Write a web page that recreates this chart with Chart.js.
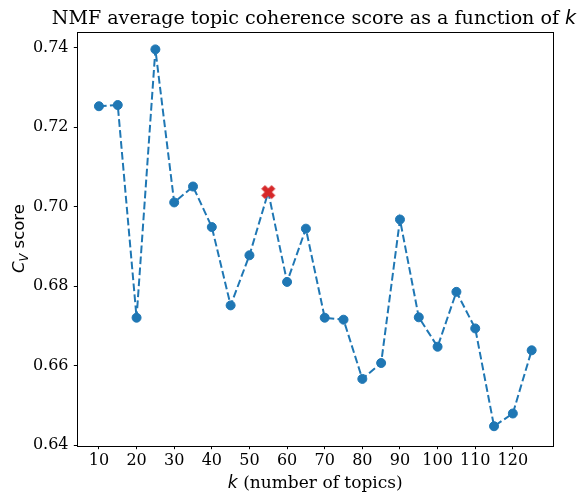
<!DOCTYPE html>
<html><head><meta charset="utf-8">
<script src="https://cdn.jsdelivr.net/npm/chart.js@4.4.1/dist/chart.umd.min.js"></script>
<style>html,body{margin:0;padding:0;background:#fff}#wrap{width:582px;height:493px;position:relative}</style>
</head><body><div id="wrap"><canvas id="c" width="582" height="493"></canvas></div>
<script>
// ---- data ----
const ks = [10,15,20,25,30,35,40,45,50,55,60,65,70,75,80,85,90,95,100,105,110,115,120,125];
const scores = [0.7253,0.7256,0.6721,0.7396,0.7011,0.7051,0.6949,0.6752,0.6878,0.7037,0.6811,0.6945,
                0.6721,0.6716,0.6567,0.6607,0.6968,0.6722,0.6648,0.6786,0.6694,0.6448,0.6480,0.6639];
const bestK = [55];
const bestScore = [0.7037];
const xTicks = [10,20,30,40,50,60,70,80,90,100,110,120];
const yTicks = [0.64,0.66,0.68,0.70,0.72,0.74];
const titleMain = 'NMF average topic coherence score as a function of ';
const titleVar = 'k';
const xLabelVar = 'k';
const xLabelRest = ' (number of topics)';
const yLabelVar = 'C';
const yLabelSub = 'V';
const yLabelRest = ' score';

// ---- styles ----
const BLUE = '#1f77b4', RED = '#d62728';
const SERIF = '"DejaVu Serif", serif';
const SANS = '"DejaVu Sans", sans-serif';
const TICK_FS = 16;

// filled X marker (matplotlib 'X')
function makeX(){
  const c = document.createElement('canvas');
  c.width = 16; c.height = 16;
  const g = c.getContext('2d');
  const v = [[-0.25,-0.5],[0,-0.25],[0.25,-0.5],[0.5,-0.25],[0.25,0],[0.5,0.25],[0.25,0.5],[0,0.25],[-0.25,0.5],[-0.5,0.25],[-0.25,0],[-0.5,-0.25]];
  const s = 13;
  g.beginPath();
  v.forEach((p,i)=>{const x=8+p[0]*s, y=8+p[1]*s; i?g.lineTo(x,y):g.moveTo(x,y);});
  g.closePath();
  g.fillStyle = RED; g.fill();
  g.strokeStyle = RED; g.lineWidth = 1; g.lineJoin='miter'; g.stroke();
  return c;
}
const xMarker = makeX();

const PLOT = {left:77.3, right:553.3, top:31.5, bottom:445.7};

function fitSize(g, parts, target){
  let w = 0;
  parts.forEach(p => { g.font = p[0] + '100px ' + p[1]; w += g.measureText(p[2]).width; });
  return 100 * target / w;
}

const decor = {
  id:'decor',
  afterDraw(chart){
    const g = chart.ctx, a = chart.chartArea;
    g.save();
    // frame
    g.strokeStyle = '#000'; g.lineWidth = 1;
    g.strokeRect(Math.round(a.left)+0.5, Math.round(a.top)+0.5, Math.round(a.right)-Math.round(a.left), Math.round(a.bottom)-Math.round(a.top));
    g.fillStyle = '#000';
    g.textBaseline = 'alphabetic';
    g.textAlign = 'left';
    // title fitted to width 525
    const tfs = fitSize(g, [['', SERIF, titleMain], ['italic ', SANS, titleVar]], 525);
    g.font = tfs + 'px ' + SERIF;
    const tw1 = g.measureText(titleMain).width;
    const tx = 51.7;
    g.fillText(titleMain, tx, 24.3);
    g.font = 'italic ' + tfs + 'px ' + SANS;
    g.fillText(titleVar, tx + tw1, 24.3);
    // x label fitted to width 175
    const lfs = fitSize(g, [['italic ', SANS, xLabelVar], ['', SERIF, xLabelRest]], 175);
    g.font = 'italic ' + lfs + 'px ' + SANS;
    const xw1 = g.measureText(xLabelVar).width;
    g.font = lfs + 'px ' + SERIF;
    const xw2 = g.measureText(xLabelRest).width;
    const cx = (a.left + a.right) / 2;
    let sx = cx - (xw1 + xw2) / 2;
    g.font = 'italic ' + lfs + 'px ' + SANS;
    g.fillText(xLabelVar, sx, 487.5);
    g.font = lfs + 'px ' + SERIF;
    g.fillText(xLabelRest, sx + xw1, 487.5);
    // y label (rotated)
    const yfs = 16.5;
    g.translate(24, (a.top + a.bottom) / 2);
    g.rotate(-Math.PI / 2);
    g.font = 'italic ' + yfs + 'px ' + SANS;
    const yw1 = g.measureText(yLabelVar).width;
    g.font = 'italic ' + (yfs*0.7) + 'px ' + SANS;
    const yw2 = g.measureText(yLabelSub).width;
    g.font = yfs + 'px ' + SANS;
    const yw3 = g.measureText(yLabelRest).width;
    let sy = -(yw1 + yw2 + yw3) / 2;
    g.font = 'italic ' + yfs + 'px ' + SANS;
    g.fillText(yLabelVar, sy, 0);
    g.font = 'italic ' + (yfs*0.7) + 'px ' + SANS;
    g.fillText(yLabelSub, sy + yw1, yfs*0.22);
    g.font = yfs + 'px ' + SANS;
    g.fillText(yLabelRest, sy + yw1 + yw2, 0);
    g.restore();
  }
};

new Chart(document.getElementById('c'), {
  type: 'line',
  data: {
    datasets: [
      {
        data: ks.map((k,i)=>({x:k, y:scores[i]})),
        borderColor: BLUE, backgroundColor: BLUE,
        borderWidth: 2, borderDash: [7.7, 3.3],
        pointRadius: ctx => (ks[ctx.dataIndex] === bestK[0] ? 0 : 4.5),
        pointBorderWidth: 1, pointBorderColor: BLUE, pointBackgroundColor: BLUE,
        fill: false, tension: 0, order: 2
      },
      {
        data: bestK.map((k,i)=>({x:k, y:bestScore[i]})),
        showLine: false, pointStyle: xMarker, pointRadius: 7,
        borderColor: RED, backgroundColor: RED, order: 1
      }
    ]
  },
  options: {
    responsive: false, animation: false, devicePixelRatio: 1, events: [],
    layout: {padding: {top: PLOT.top, right: 582 - PLOT.right, left: 0, bottom: 0}},
    plugins: {legend: {display: false}, title: {display: false}, tooltip: {enabled: false}},
    scales: {
      x: {
        type: 'linear', min: 4.25, max: 130.75,
        afterFit: s => { s.height = 493 - PLOT.bottom; },
        afterBuildTicks: s => { s.ticks = xTicks.map(v => ({value: v})); },
        grid: {drawOnChartArea: false, drawTicks: true, tickLength: 3.5, color: '#000', lineWidth: 1},
        border: {display: false},
        ticks: {color: '#000', font: {family: SERIF, size: TICK_FS}, padding: 2.5, maxRotation: 0, autoSkip: false,
                callback: v => String(v)}
      },
      y: {
        type: 'linear', min: 0.6399, max: 0.7441,
        afterFit: s => { s.width = PLOT.left; },
        afterBuildTicks: s => { s.ticks = yTicks.map(v => ({value: v})); },
        grid: {drawOnChartArea: false, drawTicks: true, tickLength: 3.5, color: '#000', lineWidth: 1},
        border: {display: false},
        ticks: {color: '#000', font: {family: SERIF, size: TICK_FS}, padding: 5.3, autoSkip: false,
                callback: v => v.toFixed(2)}
      }
    }
  },
  plugins: [decor]
});
</script>
</body></html>
